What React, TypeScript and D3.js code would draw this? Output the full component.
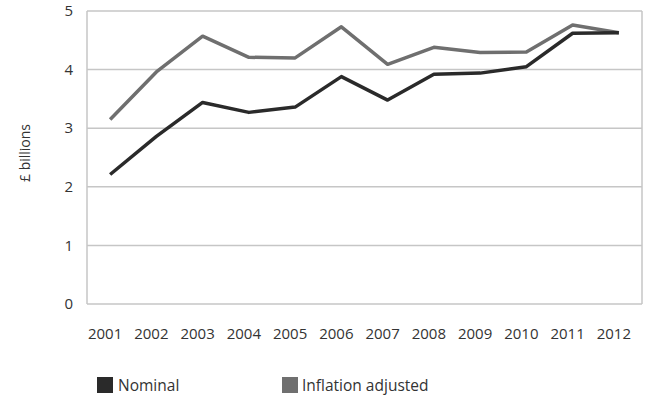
import React from 'react';
import { scaleBand, scaleLinear, line } from 'd3';

const years = ['2001','2002','2003','2004','2005','2006','2007','2008','2009','2010','2011','2012'];
const nominal = [2.21, 2.86, 3.44, 3.27, 3.36, 3.88, 3.48, 3.92, 3.94, 4.05, 4.62, 4.63];
const inflationAdjusted = [3.15, 3.96, 4.57, 4.21, 4.20, 4.73, 4.09, 4.38, 4.29, 4.30, 4.76, 4.63];
const yTicks = [0, 1, 2, 3, 4, 5];

const seriesColors = { nominal: '#2a2a2a', inflation: '#6f6f6f' };
const font = '"Open Sans", sans-serif';

const App: React.FC = () => {
  const width = 651;
  const height = 396;
  const left = 87, right = 642, top = 11, bottom = 304;

  const x = scaleBand<string>().domain(years).range([left, right]);
  const y = scaleLinear().domain([0, 5]).range([bottom, top]);
  const cx = (d: string) => (x(d) as number) + x.bandwidth() / 2;

  const lineGen = line<number>().x((_, i) => cx(years[i])).y(d => y(d));

  return (
    <svg width={width} height={height} style={{ position: 'absolute', left: 0, top: 0 }}>
      <rect width={width} height={height} fill="#fff" />
      {yTicks.map(t => (
        <g key={t}>
          <line x1={left} x2={right} y1={y(t)} y2={y(t)} stroke="#c6c6c6" strokeWidth={1.5} />
          <text x={73} y={y(t)} dy="0.35em" textAnchor="end" fontFamily={font} fontSize={15} fill="#333">{t}</text>
        </g>
      ))}
      <line x1={left} x2={left} y1={top} y2={bottom} stroke="#c6c6c6" strokeWidth={1.5} />
      <line x1={right} x2={right} y1={top} y2={bottom} stroke="#c6c6c6" strokeWidth={1.5} />
      <text transform={`translate(30,153) rotate(-90)`} textAnchor="middle" fontFamily={font} fontSize={14} fill="#333">£ billions</text>

      <path d={lineGen(inflationAdjusted) ?? ''} fill="none" stroke={seriesColors.inflation} strokeWidth={3.5} strokeLinejoin="round" />
      <path d={lineGen(nominal) ?? ''} fill="none" stroke={seriesColors.nominal} strokeWidth={3.5} strokeLinejoin="round" />

      {years.map(yr => (
        <text key={yr} x={cx(yr) - 5} y={339} textAnchor="middle" fontFamily={font} fontSize={15} fill="#333">{yr}</text>
      ))}

      <rect x={97} y={377} width={16} height={16} fill={seriesColors.nominal} />
      <text x={118} y={391} fontFamily={font} fontSize={15.5} fill="#333">Nominal</text>
      <rect x={282} y={377} width={16} height={16} fill={seriesColors.inflation} />
      <text x={302} y={391} fontFamily={font} fontSize={15.5} fill="#333">Inflation adjusted</text>
    </svg>
  );
};

export default App;
